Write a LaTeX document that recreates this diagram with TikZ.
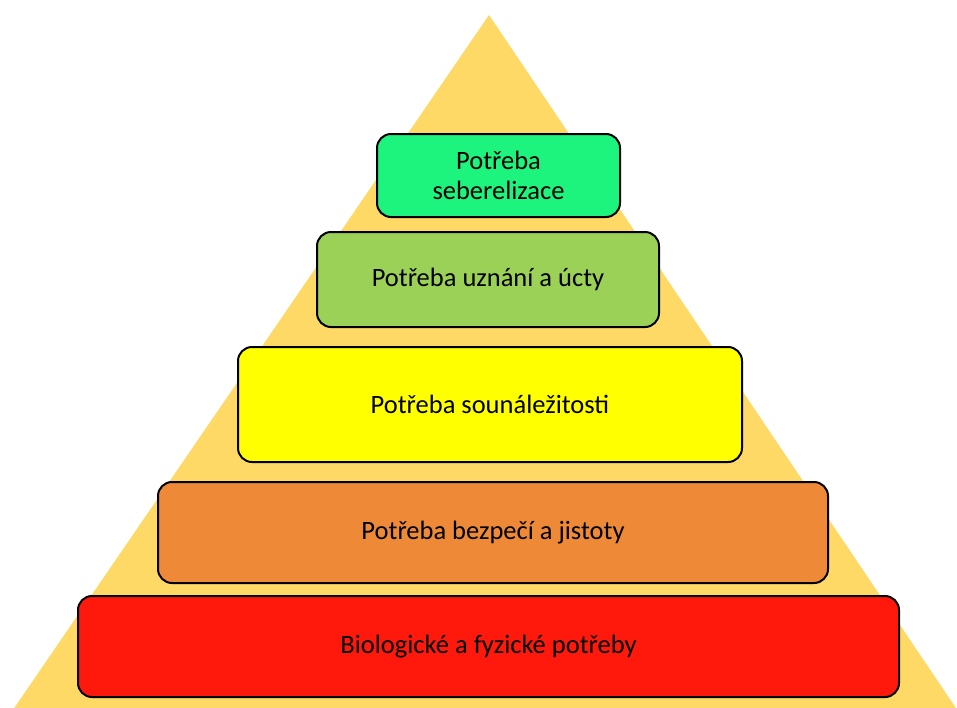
\documentclass[tikz,border=0pt]{standalone}
\usepackage{fontspec}
\setmainfont{Carlito}
\definecolor{pyr}{HTML}{FFD966}
\definecolor{c1}{HTML}{1CF47E}
\definecolor{c2}{HTML}{9BD157}
\definecolor{c3}{HTML}{FFFF00}
\definecolor{c4}{HTML}{EE8A37}
\definecolor{c5}{HTML}{FF190C}
\begin{document}
\begin{tikzpicture}[x=1pt,y=-1pt,
  level/.style={draw=black,line width=2pt,rounded corners=14pt,inner sep=0pt,
    align=center,font=\fontsize{26.5}{30}\selectfont,text=black}]
\useasboundingbox (0,0) rectangle (957,707);
\begin{scope}
\clip (0,0) rectangle (957,707);
\fill[pyr] (489,15) -- (964,720) -- (6,720) -- cycle;
\end{scope}
\node[level,fill=c1,minimum width=243pt,minimum height=83pt] (n1) at (498.5,175.5) {Potřeba\\seberelizace};
\node[level,fill=c2,minimum width=342pt,minimum height=95pt] (n2) at (488,279.5) {Potřeba uznání a úcty};
\node[level,fill=c3,minimum width=504pt,minimum height=115pt] (n3) at (490,404.5) {Potřeba sounáležitosti};
\node[level,fill=c4,minimum width=670pt,minimum height=101pt] (n4) at (493,532.5) {Potřeba bezpečí a jistoty};
\node[level,fill=c5,minimum width=821pt,minimum height=101pt] (n5) at (488.5,646.5) {Biologické a fyzické potřeby};
\end{tikzpicture}
\end{document}
